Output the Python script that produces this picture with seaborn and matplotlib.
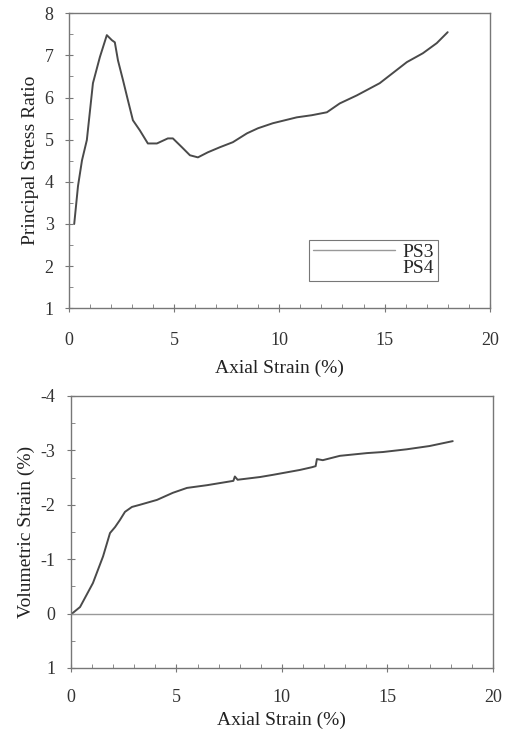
import numpy as np
import pandas as pd
import matplotlib
matplotlib.use("Agg")
import matplotlib.pyplot as plt
from matplotlib.ticker import MultipleLocator
import seaborn as sns

# principal stress ratio vs axial strain (PS3)
ps3_strain = [0.25, 0.43, 0.62, 0.85, 1.14, 1.47, 1.80, 2.04, 2.18, 2.33, 2.57, 2.80, 3.04,
              3.37, 3.75, 4.18, 4.70, 4.94, 5.37, 5.75, 6.13, 6.60, 7.17, 7.79, 8.46, 8.98,
              9.69, 10.83, 11.54, 12.26, 12.87, 13.68, 14.77, 15.39, 16.06, 16.82, 17.48, 18.0]
ps3_ratio = [3.0, 3.9, 4.51, 4.99, 6.34, 6.96, 7.48, 7.36, 7.31, 6.88, 6.41, 5.94, 5.46,
             5.22, 4.91, 4.91, 5.03, 5.03, 4.82, 4.63, 4.58, 4.70, 4.82, 4.94, 5.15, 5.27,
             5.39, 5.53, 5.58, 5.65, 5.86, 6.05, 6.34, 6.58, 6.84, 7.05, 7.29, 7.55]

# volumetric strain vs axial strain
vol_axial = [0.05, 0.43, 1.04, 1.52, 1.85, 2.09, 2.32, 2.56, 2.89, 3.27, 4.08, 4.83, 5.5,
             6.45, 7.39, 7.70, 7.77, 7.90, 8.96, 9.57, 10.85, 11.42, 11.60, 11.66, 11.94,
             12.75, 14.03, 14.79, 15.92, 17.0, 18.1]
vol_strain = [0.0, -0.12, -0.56, -1.05, -1.48, -1.59, -1.72, -1.87, -1.96, -2.0, -2.09,
              -2.22, -2.31, -2.36, -2.42, -2.44, -2.52, -2.46, -2.51, -2.55, -2.64, -2.69,
              -2.71, -2.84, -2.82, -2.90, -2.95, -2.97, -3.02, -3.08, -3.17]

sns.set_theme(style="white")
plt.rcParams['font.family'] = ['Liberation Serif', 'DejaVu Serif']
plt.rcParams['axes.unicode_minus'] = False

line_col = '#4a4a4a'
spine_col = '#777777'

fig = plt.figure(figsize=(5.07, 7.34), dpi=100)
ax1 = fig.add_axes([0.136, 0.580, 0.830, 0.402])
ax2 = fig.add_axes([0.140, 0.090, 0.832, 0.3705])

df1 = pd.DataFrame({'strain': ps3_strain, 'ratio': ps3_ratio})
sns.lineplot(data=df1, x='strain', y='ratio', ax=ax1, sort=False, estimator=None,
             color=line_col, lw=1.4, label='PS3')
ax1.plot([], [], color='none', label='PS4')
ax1.set_xlim(0, 20)
ax1.set_ylim(1, 8)
ax1.set_xlabel('Axial Strain (%)', fontsize=14, color='#222222', labelpad=8)
ax1.set_ylabel('Principal Stress Ratio', fontsize=14, color='#222222')
leg = ax1.legend(loc='lower right', bbox_to_anchor=(0.90, 0.06), fontsize=14,
                 frameon=True, fancybox=False, handlelength=4.2, borderpad=0.2,
                 labelspacing=-0.1, handletextpad=0.4)
leg.get_frame().set_edgecolor('#555555')
leg.get_frame().set_linewidth(0.8)
leg.legend_handles[0].set_color('#999999')
leg.legend_handles[0].set_linewidth(1.0)

df2 = pd.DataFrame({'axial': vol_axial, 'vol': vol_strain})
sns.lineplot(data=df2, x='axial', y='vol', ax=ax2, sort=False, estimator=None,
             color=line_col, lw=1.4)
ax2.axhline(0, color='#999999', lw=1.0)
ax2.set_xlim(0, 20)
ax2.set_ylim(1, -4)
ax2.set_xlabel('Axial Strain (%)', fontsize=14, color='#222222', labelpad=4)
ax2.set_ylabel('Volumetric Strain (%)', fontsize=14, color='#222222')

for ax in (ax1, ax2):
    ax.xaxis.set_major_locator(MultipleLocator(5))
    ax.xaxis.set_minor_locator(MultipleLocator(1))
    ax.yaxis.set_major_locator(MultipleLocator(1))
    ax.yaxis.set_minor_locator(MultipleLocator(0.5))
    ax.tick_params(which='major', direction='inout', length=6, width=0.8,
                   color=spine_col, labelsize=13, labelcolor='#333333', pad=8)
    ax.tick_params(which='minor', direction='in', length=3, width=0.6, color=spine_col)
    ax.tick_params(axis='both', which='both', bottom=True, left=True)
    for s in ax.spines.values():
        s.set_color(spine_col)
        s.set_linewidth(1.0)
ax1.tick_params(axis='x', which='major', pad=14)
ax2.tick_params(axis='x', which='major', pad=12)

fig.savefig('out.png', dpi=100)
